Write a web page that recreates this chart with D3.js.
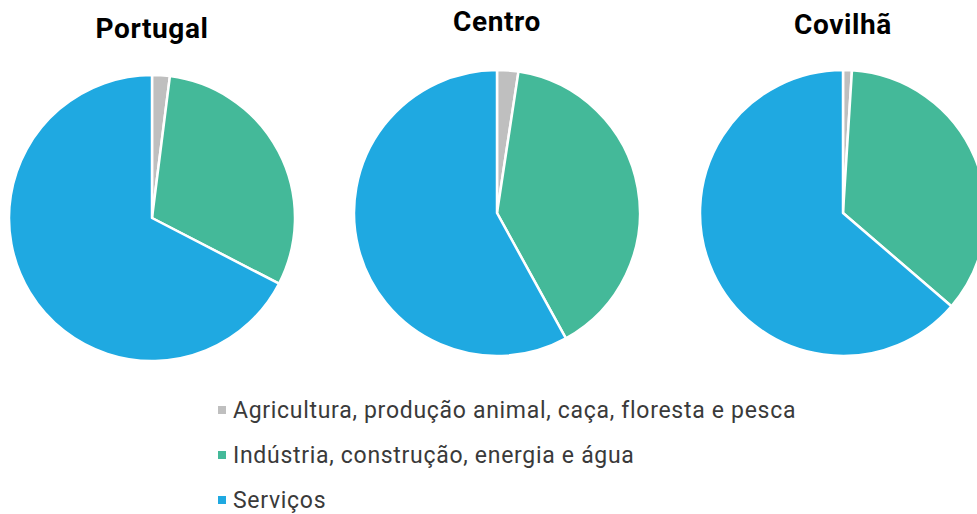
<!DOCTYPE html>
<html>
<head>
<meta charset="utf-8">
<script src="https://cdn.jsdelivr.net/npm/d3@7"></script>
<style>
  body { margin: 0; background: #fff; }
  svg { display: block; }
</style>
</head>
<body>
<svg class="pies" width="977" height="514"></svg>
<script>
// sectors (legend order = slice order)
const sectors = [
    'Agricultura, produção animal, caça, floresta e pesca',
    'Indústria, construção, energia e água',
    'Serviços'
];
const regions = ['Portugal', 'Centro', 'Covilhã'];

// share of each sector (%)
const portugal = [2.0, 30.6, 67.4];
const centro = [2.4, 39.6, 58.0];
const covilha = [1.0, 35.3, 63.7];

const colors = ['#bfbfbf', '#44b999', '#1fa9e1'];

const seriesList = [portugal, centro, covilha];

const svg = d3.select('.pies');

const layout = [
    { cx: 152, cy: 218, ty: 38 },
    { cx: 497, cy: 213, ty: 31 },
    { cx: 843, cy: 213, ty: 34 }
];
const radius = 143;

const pie = d3.pie().sort(null).value(d => d);
const arc = d3.arc().innerRadius(0).outerRadius(radius);
const color = d3.scaleOrdinal().domain(sectors).range(colors);

regions.forEach((name, i) => {
    const pos = layout[i];
    const g = svg.append('g')
        .attr('transform', `translate(${pos.cx}, ${pos.cy})`);

    g.selectAll('path')
        .data(pie(seriesList[i]))
        .join('path')
        .attr('d', arc)
        .attr('fill', (d, j) => color(sectors[j]))
        .attr('stroke', '#fff')
        .attr('stroke-width', 2.5)
        .attr('stroke-linejoin', 'round');

    svg.append('text')
        .attr('x', pos.cx)
        .attr('y', pos.ty)
        .attr('text-anchor', 'middle')
        .attr('font-family', 'Roboto, sans-serif')
        .attr('font-weight', 'bold')
        .attr('font-size', 28)
        .attr('letter-spacing', 0.6)
        .attr('fill', '#000')
        .text(name);
});

// legend
const legend = svg.append('g')
    .attr('transform', 'translate(218, 0)');

const item = legend.selectAll('g')
    .data(sectors)
    .join('g')
    .attr('transform', (d, i) => `translate(0, ${410 + i * 45})`);

item.append('rect')
    .attr('x', 0)
    .attr('y', -4)
    .attr('width', 8)
    .attr('height', 8)
    .attr('fill', d => color(d));

item.append('text')
    .attr('x', 15)
    .attr('y', 0)
    .attr('dy', '0.35em')
    .attr('font-family', 'Roboto, sans-serif')
    .attr('font-size', 23)
    .attr('letter-spacing', 0.7)
    .attr('fill', '#3a3a3a')
    .text(d => d);
</script>
</body>
</html>
